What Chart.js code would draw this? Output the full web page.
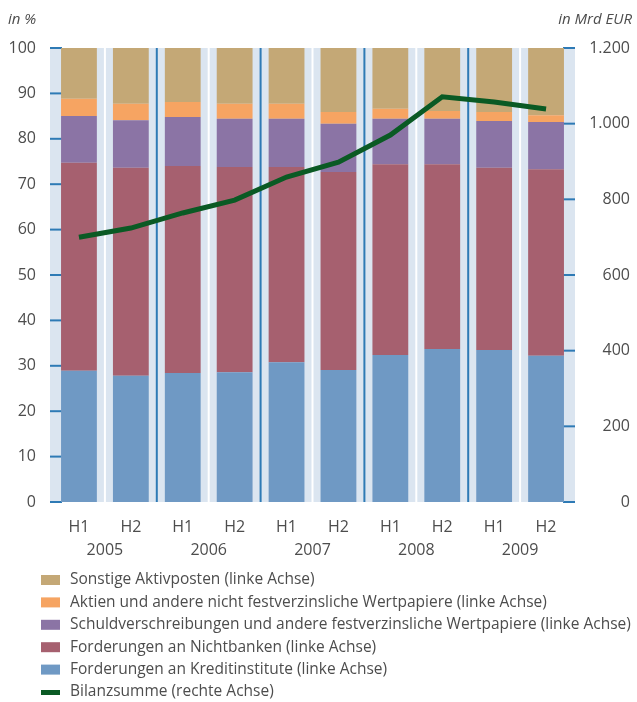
<!DOCTYPE html>
<html>
<head>
<meta charset="utf-8">
<script src="https://cdn.jsdelivr.net/npm/chart.js@4/dist/chart.umd.min.js"></script>
<style>
  html, body { margin: 0; padding: 0; background: #fff; }
  #wrap { width: 637px; height: 702px; position: relative; }
</style>
</head>
<body>
<div id="wrap"><canvas id="bankChart" width="637" height="702"></canvas></div>
<script>
// Halbjahre und Jahre
const periods = ['H1', 'H2', 'H1', 'H2', 'H1', 'H2', 'H1', 'H2', 'H1', 'H2'];
const years = ['2005', '2006', '2007', '2008', '2009'];

// Anteile an der Bilanzsumme in % (linke Achse)
const kreditinstitute = [28.9, 27.8, 28.4, 28.6, 30.8, 29.1, 32.4, 33.7, 33.5, 32.2];
const nichtbanken     = [45.8, 45.8, 45.6, 45.2, 43.0, 43.6, 42.0, 40.7, 40.1, 41.1];
const schuldverschr   = [10.3, 10.5, 10.8, 10.6, 10.6, 10.6, 10.0, 10.0, 10.3, 10.4];
const aktien          = [3.8, 3.6, 3.3, 3.3, 3.3, 2.6, 2.2, 1.7, 2.0, 1.5];
const sonstige        = [11.2, 12.3, 11.9, 12.3, 12.3, 14.1, 13.4, 13.9, 14.1, 14.8];

// Bilanzsumme in Mrd EUR (rechte Achse)
const bilanzsumme = [700, 724, 764, 798, 859, 898, 970, 1071, 1057, 1039];

const leftTicks = [0, 10, 20, 30, 40, 50, 60, 70, 80, 90, 100];
const rightTicks = [0, 200, 400, 600, 800, 1000, 1200];

const FONT = "'Open Sans', 'DejaVu Sans', sans-serif";
const TEXT = '#4d4d4d';
const BLUE = '#2e7ab5';

const barOpts = { yAxisID: 'y', stack: 's', barPercentage: 0.69, categoryPercentage: 1, borderWidth: 0, order: 2 };

const datasets = [
    Object.assign({ type: 'bar', label: 'Forderungen an Kreditinstitute (linke Achse)', data: kreditinstitute, backgroundColor: '#6f99c4' }, barOpts),
    Object.assign({ type: 'bar', label: 'Forderungen an Nichtbanken (linke Achse)', data: nichtbanken, backgroundColor: '#a6606f' }, barOpts),
    Object.assign({ type: 'bar', label: 'Schuldverschreibungen und andere festverzinsliche Wertpapiere (linke Achse)', data: schuldverschr, backgroundColor: '#8b74a5' }, barOpts),
    Object.assign({ type: 'bar', label: 'Aktien und andere nicht festverzinsliche Wertpapiere (linke Achse)', data: aktien, backgroundColor: '#f6a462' }, barOpts),
    Object.assign({ type: 'bar', label: 'Sonstige Aktivposten (linke Achse)', data: sonstige, backgroundColor: '#c4a876' }, barOpts),
    { type: 'line', label: 'Bilanzsumme (rechte Achse)', data: bilanzsumme, yAxisID: 'y2',
      borderColor: '#0a5a24', borderWidth: 5, pointRadius: 0, tension: 0, order: 1 }
];

// Hintergrund, Trennlinien und Ticks innerhalb der Zeichenfläche
const backdrop = {
    id: 'backdrop',
    beforeDatasetsDraw(chart) {
        const { ctx, chartArea: a, scales } = chart;
        const x = scales.x;
        ctx.save();
        ctx.fillStyle = '#dbe5f0';
        ctx.fillRect(a.left - 3, a.top, a.right - a.left + 6, a.bottom - a.top);
        for (let i = 0; i < periods.length - 1; i++) {
            const bx = (x.getPixelForValue(i) + x.getPixelForValue(i + 1)) / 2;
            ctx.strokeStyle = i % 2 === 1 ? BLUE : '#ffffff';
            ctx.lineWidth = 2;
            ctx.beginPath();
            ctx.moveTo(bx, a.top);
            ctx.lineTo(bx, a.bottom);
            ctx.stroke();
        }
        ctx.strokeStyle = BLUE;
        ctx.lineWidth = 2;
        leftTicks.forEach(v => {
            const y = scales.y.getPixelForValue(v);
            ctx.beginPath();
            ctx.moveTo(a.left - 3, y);
            ctx.lineTo(a.left + 9, y);
            ctx.stroke();
        });
        rightTicks.forEach(v => {
            const y = scales.y2.getPixelForValue(v);
            ctx.beginPath();
            ctx.moveTo(a.right - 9, y);
            ctx.lineTo(a.right + 3, y);
            ctx.stroke();
        });
        ctx.restore();
    },
    afterDraw(chart) {
        const { ctx, scales } = chart;
        const x = scales.x;
        ctx.save();
        ctx.fillStyle = TEXT;
        ctx.font = '16px ' + FONT;
        ctx.textAlign = 'center';
        ctx.textBaseline = 'middle';
        years.forEach((yr, i) => {
            const cx = (x.getPixelForValue(2 * i) + x.getPixelForValue(2 * i + 1)) / 2;
            ctx.fillText(yr, cx, 550);
        });
        // Achsenbeschriftungen
        ctx.font = 'italic 15px ' + FONT;
        ctx.textAlign = 'left';
        ctx.fillText('in %', 8, 20);
        ctx.textAlign = 'right';
        ctx.fillText('in Mrd EUR', 632, 20);

        // Legende
        ctx.font = '15.5px ' + FONT;
        ctx.textAlign = 'left';
        const order = [4, 3, 2, 1, 0, 5];
        order.forEach((di, row) => {
            const ds = chart.data.datasets[di];
            const y = 580 + row * 22.4;
            if (ds.type === 'line') {
                ctx.fillStyle = ds.borderColor;
                ctx.fillRect(41, y - 2, 19, 5);
            } else {
                ctx.fillStyle = ds.backgroundColor;
                ctx.fillRect(41, y - 5, 19, 10);
            }
            ctx.fillStyle = TEXT;
            ctx.fillText(ds.label, 70, y);
        });
        ctx.restore();
    }
};

new Chart(document.getElementById('bankChart'), {
    data: { labels: periods, datasets: datasets },
    options: {
        responsive: false,
        animation: false,
        layout: { padding: { left: 0, right: 7, top: 48, bottom: 0 } },
        plugins: { legend: { display: false }, tooltip: { enabled: false } },
        scales: {
            x: {
                stacked: true,
                grid: { display: false, drawTicks: false },
                border: { display: false },
                ticks: { color: TEXT, font: { family: FONT, size: 16 }, padding: 16, maxRotation: 0 },
                afterFit(s) { s.height = 200; }
            },
            y: {
                stacked: true,
                position: 'left',
                min: 0, max: 100,
                afterBuildTicks(s) { s.ticks = leftTicks.map(v => ({ value: v })); },
                grid: { display: false, drawTicks: false },
                border: { display: false },
                ticks: { color: TEXT, font: { family: FONT, size: 16 }, padding: 17 },
                afterFit(s) { s.width = 53; }
            },
            y2: {
                position: 'right',
                min: 0, max: 1200,
                afterBuildTicks(s) { s.ticks = rightTicks.map(v => ({ value: v })); },
                grid: { display: false, drawTicks: false },
                border: { display: false },
                ticks: {
                    color: TEXT, font: { family: FONT, size: 16 }, crossAlign: 'far',
                    callback: v => v.toLocaleString('de-DE')
                },
                afterFit(s) { s.width = 58; }
            }
        }
    },
    plugins: [backdrop]
});
</script>
</body>
</html>
